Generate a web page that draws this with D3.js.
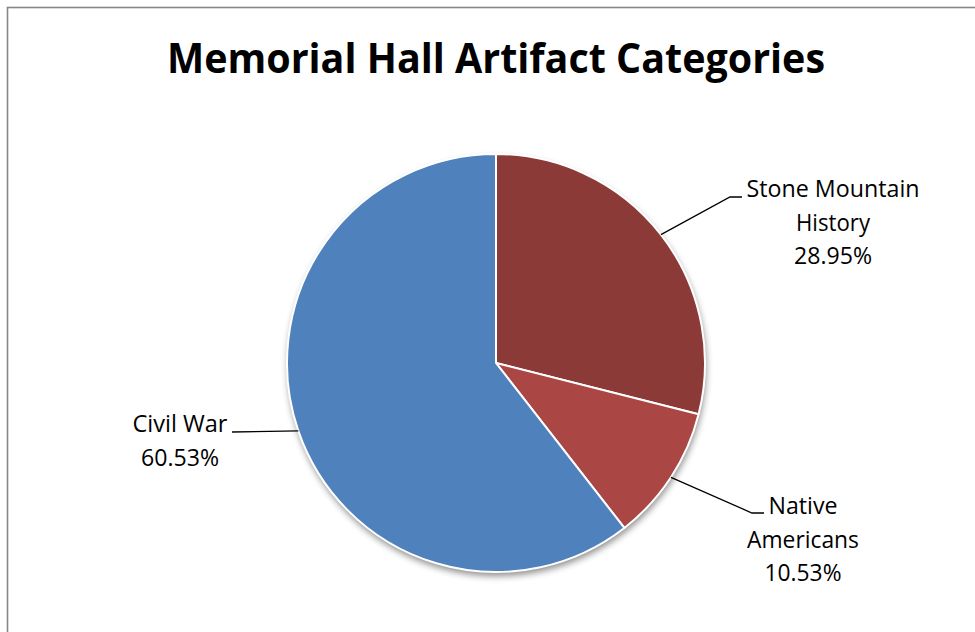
<!DOCTYPE html>
<html>
<head>
<meta charset="utf-8">
<script src="https://cdn.jsdelivr.net/npm/d3@7"></script>
<style>
  html, body { margin: 0; padding: 0; background: #fff; }
  svg { display: block; }
</style>
</head>
<body>
<svg id="chart" width="975" height="632"></svg>
<script>
// Artifact counts per category (38 artifacts in total)
const categories = ["Stone Mountain History", "Native Americans", "Civil War"];
const counts = [11, 4, 23];
const sliceColors = ["#8C3A37", "#AA4643", "#4F81BD"];
// Label lines as printed next to each slice
const labelLines = [["Stone Mountain", "History"], ["Native", "Americans"], ["Civil War"]];

const W = 975, H = 632;
const svg = d3.select("#chart");

// Chart-area frame (only top and left edges fall inside the view)
svg.append("rect")
  .attr("x", 7.5).attr("y", 7.5)
  .attr("width", 1200).attr("height", 1200)
  .attr("fill", "none").attr("stroke", "#878787").attr("stroke-width", 1.6);

// Title
svg.append("text")
  .attr("x", 496).attr("y", 73)
  .attr("text-anchor", "middle")
  .attr("font-family", "'Open Sans', 'Liberation Sans', sans-serif")
  .attr("font-weight", "bold")
  .attr("font-size", 41)
  .attr("textLength", 658)
  .attr("lengthAdjust", "spacingAndGlyphs")
  .attr("fill", "#000")
  .text("Memorial Hall Artifact Categories");

const cx = 496, cy = 363, r = 209;
const total = d3.sum(counts);
const data = categories.map((c, i) => ({ name: c, value: counts[i], color: sliceColors[i], lines: labelLines[i] }));

const pie = d3.pie().value(d => d.value).sort(null);
const arcs = pie(data);
const arc = d3.arc().innerRadius(0).outerRadius(r);

// Soft drop shadow under the pie
const defs = svg.append("defs");
const f = defs.append("filter").attr("id", "pieShadow")
  .attr("x", "-20%").attr("y", "-20%").attr("width", "140%").attr("height", "140%");
f.append("feGaussianBlur").attr("stdDeviation", 3.5);

const g = svg.append("g").attr("transform", `translate(${cx},${cy})`);
g.append("circle")
  .attr("cx", 1).attr("cy", 4).attr("r", r)
  .attr("fill", "#000").attr("opacity", 0.45)
  .attr("filter", "url(#pieShadow)");

g.selectAll("path.slice")
  .data(arcs)
  .join("path")
  .attr("class", "slice")
  .attr("d", arc)
  .attr("fill", d => d.data.color)
  .attr("stroke", "#fff")
  .attr("stroke-width", 2)
  .attr("stroke-linejoin", "round");

// Label blocks: text anchor point plus elbow of the leader line
const labelLayout = [
  { x: 833, y: 197, elbow: [730, 197], end: [742, 197] },
  { x: 803, y: 514, elbow: [752, 513], end: [764, 513] },
  { x: 180, y: 432, elbow: [232, 432], end: null }
];
const labelWidths = [[173, 74, 78], [69, 112, 77], [95, 78]];

const fmt = v => (v / total * 100).toFixed(2) + "%";
const lineH = 33.5;

arcs.forEach((a, i) => {
  const L = labelLayout[i];
  const mid = (a.startAngle + a.endAngle) / 2;
  const px = cx + r * Math.sin(mid), py = cy - r * Math.cos(mid);
  const pts = [[px, py], L.elbow];
  if (L.end) pts.push(L.end);
  svg.append("path")
    .attr("d", d3.line()(pts))
    .attr("fill", "none")
    .attr("stroke", "#000")
    .attr("stroke-width", 1.3);

  const lines = a.data.lines.concat([fmt(a.data.value)]);
  lines.forEach((t, j) => {
    svg.append("text")
      .attr("x", L.x).attr("y", L.y + j * lineH)
      .attr("text-anchor", "middle")
      .attr("font-family", "'Open Sans', 'Liberation Sans', sans-serif")
      .attr("font-size", 23)
      .attr("textLength", labelWidths[i][j])
      .attr("lengthAdjust", "spacingAndGlyphs")
      .attr("fill", "#000")
      .text(t);
  });
});
</script>
</body>
</html>
